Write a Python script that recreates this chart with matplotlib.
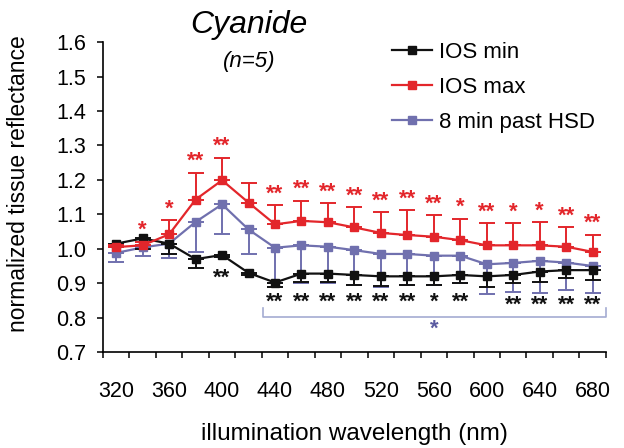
"""
Cyanide: normalized tissue reflectance vs illumination wavelength
"""
import matplotlib

matplotlib.use("Agg")
import matplotlib.pyplot as plt
import numpy as np
from matplotlib.lines import Line2D

plt.rcParams["font.family"] = ["Liberation Sans", "DejaVu Sans"]

wavelengths = [320, 340, 360, 380, 400, 420, 440, 460, 480, 500,
               520, 540, 560, 580, 600, 620, 640, 660, 680]

ios_min = [1.015, 1.03, 1.015, 0.97, 0.982, 0.93, 0.902, 0.928, 0.928, 0.924,
           0.92, 0.92, 0.92, 0.924, 0.92, 0.924, 0.934, 0.938, 0.938]
ios_min_err = [0.01, 0.03, 0.03, 0.025, 0.006, 0.005, 0.012, 0.023, 0.023, 0.03,
               0.028, 0.026, 0.026, 0.024, 0.032, 0.022, 0.031, 0.024, 0.029]

ios_max = [1.005, 1.01, 1.042, 1.143, 1.199, 1.134, 1.071, 1.081, 1.077, 1.062,
           1.046, 1.04, 1.035, 1.025, 1.01, 1.01, 1.01, 1.006, 0.991]
ios_max_err = [0.006, 0.01, 0.041, 0.078, 0.065, 0.056, 0.056, 0.059, 0.055, 0.059,
               0.061, 0.072, 0.063, 0.062, 0.064, 0.064, 0.067, 0.056, 0.05]

past_hsd = [0.988, 1.004, 1.015, 1.078, 1.129, 1.056, 1.003, 1.01, 1.006, 0.996,
            0.985, 0.985, 0.98, 0.98, 0.955, 0.959, 0.965, 0.96, 0.95]
past_hsd_err = [0.026, 0.024, 0.043, 0.087, 0.087, 0.07, 0.103, 0.11, 0.106, 0.102,
                0.097, 0.091, 0.086, 0.08, 0.087, 0.084, 0.092, 0.08, 0.077]

max_stars = ["", "*", "*", "**", "**", "", "**", "**", "**", "**",
             "**", "**", "**", "*", "**", "*", "*", "**", "**"]
min_stars = ["", "", "", "", "**", "", "**", "**", "**", "**",
             "**", "**", "*", "**", "", "**", "**", "**", "**"]

RED = "#e3262b"
BLACK = "#111111"
BLUE = "#7070ae"
BRACKET = "#a4acd2"

fig = plt.figure(figsize=(6.24, 4.48), dpi=100)
ax = fig.add_axes([0.165, 0.214, 0.806, 0.692])

x = np.arange(len(wavelengths))
zeros = np.zeros(len(x))

common = dict(marker="s", markersize=5.5, linewidth=1.6, capsize=6,
              elinewidth=1.4, capthick=1.4)
ax.errorbar(x, past_hsd, yerr=[past_hsd_err, zeros], color=BLUE, zorder=2, **common)
ax.errorbar(x, ios_min, yerr=[ios_min_err, zeros], color=BLACK, zorder=3, **common)
ax.errorbar(x, ios_max, yerr=[zeros, ios_max_err], color=RED, zorder=4, **common)

# significance stars
for i, s in enumerate(max_stars):
    if s:
        ax.text(x[i], ios_max[i] + ios_max_err[i] + 0.002, s, color=RED,
                ha="center", va="bottom", fontsize=16, fontweight="bold")
for i, s in enumerate(min_stars):
    if not s:
        continue
    y = 0.885 if i == 4 else (0.815 if i < 14 else 0.805)
    ax.text(x[i], y, s, color=BLACK, ha="center", va="bottom",
            fontsize=16, fontweight="bold")

# bracket for 8 min past HSD
ax.plot([5.55, 5.55, 18.5, 18.5], [0.827, 0.8025, 0.8025, 0.827],
        color=BRACKET, linewidth=1.2, clip_on=False)
ax.text(12.0, 0.735, "*", color="#5a5aa0", ha="center", va="bottom",
        fontsize=16, fontweight="bold")

ax.set_xlim(-0.5, 18.5)
ax.set_ylim(0.7, 1.6)
ax.set_yticks(np.arange(0.7, 1.61, 0.1))
ax.set_yticklabels([f"{v:.1f}" for v in np.arange(0.7, 1.61, 0.1)])
ax.set_xticks(np.arange(-0.5, 19, 1))
ax.set_xticklabels([])
ax.set_xticks(x[::2], minor=True)
ax.set_xticklabels([str(w) for w in wavelengths[::2]], minor=True)
ax.tick_params(axis="both", which="major", direction="out", length=4,
               width=1.1, labelsize=15.5, pad=8)
ax.tick_params(axis="x", which="minor", length=0, labelsize=15.5, pad=21)

for side in ["top", "right"]:
    ax.spines[side].set_visible(False)
for side in ["left", "bottom"]:
    ax.spines[side].set_linewidth(1.2)

ax.set_ylabel("normalized tissue reflectance", fontsize=16.5)
ax.yaxis.set_label_coords(-0.145, 0.542)
ax.set_xlabel("illumination wavelength (nm)", fontsize=17.5, labelpad=15)

fig.text(249 / 624, 1 - 33 / 448, "Cyanide", fontsize=23, style="italic",
         ha="center", va="baseline")
fig.text(249 / 624, 1 - 67 / 448, "(n=5)", fontsize=16, style="italic",
         ha="center", va="baseline")

handles = [
    Line2D([], [], color=BLACK, marker="s", markersize=5.5, linewidth=1.6),
    Line2D([], [], color=RED, marker="s", markersize=5.5, linewidth=1.6),
    Line2D([], [], color=BLUE, marker="s", markersize=5.5, linewidth=1.6),
]
fig.legend(handles, ["IOS min", "IOS max", "8 min past HSD"], loc="upper left",
           bbox_to_anchor=(392 / 624, 1 - 42 / 448), frameon=False,
           fontsize=16, handlelength=1.8, handletextpad=0.33,
           labelspacing=0.62, borderpad=0, borderaxespad=0)

fig.savefig("out.png", dpi=100)
